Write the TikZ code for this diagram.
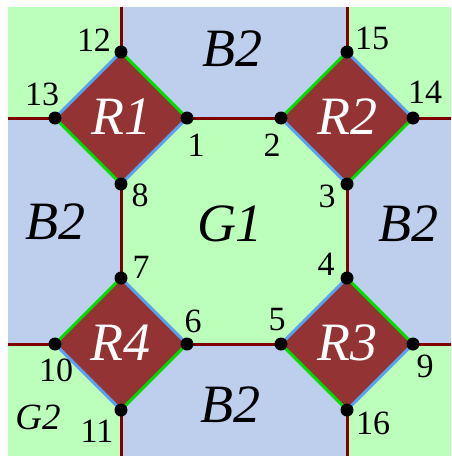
\documentclass[tikz,border=0pt]{standalone}
\usepackage{fontspec}
\setmainfont{Liberation Serif}
\usepackage{xcolor}
\usepackage{tikz}
\usetikzlibrary{calc}
\definecolor{regG}{RGB}{187,255,187}
\definecolor{regB}{RGB}{189,207,237}
\definecolor{rhombR}{RGB}{148,51,51}
\definecolor{gridR}{RGB}{128,0,0}
\definecolor{edgeG}{RGB}{0,221,0}
\definecolor{edgeB}{RGB}{90,160,240}

\begin{document}
\begin{tikzpicture}[
  x=1pt,y=-1pt,
  grid/.style={draw=gridR,line width=3pt},
  rhomb/.style={fill=rhombR},
  eG/.style={draw=edgeG,line width=3pt},
  eB/.style={draw=edgeB,line width=3pt},
  dot/.style={circle,fill=black,inner sep=0pt,minimum size=13pt},
  num/.style={inner sep=0pt,font=\fontsize{34}{34}\selectfont},
  reg/.style={inner sep=0pt,font=\fontsize{54}{54}\selectfont\itshape},
  rlab/.style={inner sep=0pt,text=white,font=\fontsize{54}{54}\selectfont\itshape}]
\useasboundingbox (0,0) rectangle (451,456);
% regions
\fill[regG] (8,7) rectangle (121,118);
\fill[regB] (121,7) rectangle (347,118);
\fill[regG] (347,7) rectangle (451,118);
\fill[regB] (8,118) rectangle (121,344);
\fill[regG] (121,118) rectangle (347,344);
\fill[regB] (347,118) rectangle (451,344);
\fill[regG] (8,344) rectangle (121,456);
\fill[regB] (121,344) rectangle (347,456);
\fill[regG] (347,344) rectangle (451,456);
% corners of the diamonds
\coordinate (c12) at (121,52);  \coordinate (c13) at (55,118);
\coordinate (c1)  at (187,118); \coordinate (c8)  at (121,184);
\coordinate (c15) at (347,52);  \coordinate (c2)  at (281,118);
\coordinate (c14) at (413,118); \coordinate (c3)  at (347,184);
\coordinate (c4)  at (347,278); \coordinate (c5)  at (281,344);
\coordinate (c9)  at (413,344); \coordinate (c16) at (347,410);
\coordinate (c7)  at (121,278); \coordinate (c10) at (55,344);
\coordinate (c6)  at (187,344); \coordinate (c11) at (121,410);
% ends on the border
\coordinate (t1) at (121,7);  \coordinate (t2) at (347,7);
\coordinate (l1) at (8,118);  \coordinate (l2) at (8,344);
\coordinate (r1) at (451,118); \coordinate (r2) at (451,344);
\coordinate (b1) at (121,456); \coordinate (b2) at (347,456);
% boundary lines
\draw[grid] (t1)--(c12);
\draw[grid] (t2)--(c15);
\draw[grid] (l1)--(c13);
\draw[grid] (l2)--(c10);
\draw[grid] (r1)--(c14);
\draw[grid] (r2)--(c9);
\draw[grid] (b1)--(c11);
\draw[grid] (b2)--(c16);
\draw[grid] (c1)--(c2);
\draw[grid] (c6)--(c5);
\draw[grid] (c8)--(c7);
\draw[grid] (c3)--(c4);
% diamonds
\fill[rhomb] (c12)--(c1)--(c8)--(c13)--cycle;
\fill[rhomb] (c15)--(c14)--(c3)--(c2)--cycle;
\fill[rhomb] (c4)--(c9)--(c16)--(c5)--cycle;
\fill[rhomb] (c7)--(c6)--(c11)--(c10)--cycle;
\draw[eB] (c12)--(c13);
\draw[eG] (c12)--(c1);
\draw[eB] (c1)--(c8);
\draw[eG] (c8)--(c13);
\draw[eG] (c15)--(c2);
\draw[eB] (c15)--(c14);
\draw[eG] (c14)--(c3);
\draw[eB] (c3)--(c2);
\draw[eB] (c5)--(c4);
\draw[eG] (c4)--(c9);
\draw[eB] (c9)--(c16);
\draw[eG] (c16)--(c5);
\draw[eG] (c7)--(c10);
\draw[eB] (c7)--(c6);
\draw[eG] (c6)--(c11);
\draw[eB] (c11)--(c10);
% vertices
\node[dot] (p1) at (c1) {};   \node[dot] (p2) at (c2) {};
\node[dot] (p3) at (c3) {};   \node[dot] (p4) at (c4) {};
\node[dot] (p5) at (c5) {};   \node[dot] (p6) at (c6) {};
\node[dot] (p7) at (c7) {};   \node[dot] (p8) at (c8) {};
\node[dot] (p9) at (c9) {};   \node[dot] (p10) at (c10) {};
\node[dot] (p11) at (c11) {}; \node[dot] (p12) at (c12) {};
\node[dot] (p13) at (c13) {}; \node[dot] (p14) at (c14) {};
\node[dot] (p15) at (c15) {}; \node[dot] (p16) at (c16) {};
% vertex numbers
\node[num] (n12) at (94,40)   {12};
\node[num] (n13) at (42,94)   {13};
\node[num] (n1)  at (196,145) {1};
\node[num] (n8)  at (140,195) {8};
\node[num] (n15) at (372,38)  {15};
\node[num] (n14) at (425,92)  {14};
\node[num] (n2)  at (272,145) {2};
\node[num] (n3)  at (327,196) {3};
\node[num] (n7)  at (141,267) {7};
\node[num] (n6)  at (193,321) {6};
\node[num] (n10) at (56,370)  {10};
\node[num] (n11) at (97,431)  {11};
\node[num] (n4)  at (326,264) {4};
\node[num] (n5)  at (277,320) {5};
\node[num] (n9)  at (425,366) {9};
\node[num] (n16) at (373,423) {16};
% region names
\node[rlab] (R1) at (121,117) {R1};
\node[rlab] (R2) at (347,117) {R2};
\node[rlab] (R3) at (347,343) {R3};
\node[rlab] (R4) at (120,343) {R4};
\node[reg] (Btop) at (232,49)  {B2};
\node[reg] (Blft) at (55,222)  {B2};
\node[reg] (G1)   at (230,224) {G1};
\node[reg] (Brgt) at (408,224) {B2};
\node[reg] (Bbot) at (230,405) {B2};
\node[inner sep=0pt,font=\fontsize{37}{37}\selectfont\itshape] (G2) at (38,417) {G2};
\end{tikzpicture}
\end{document}
